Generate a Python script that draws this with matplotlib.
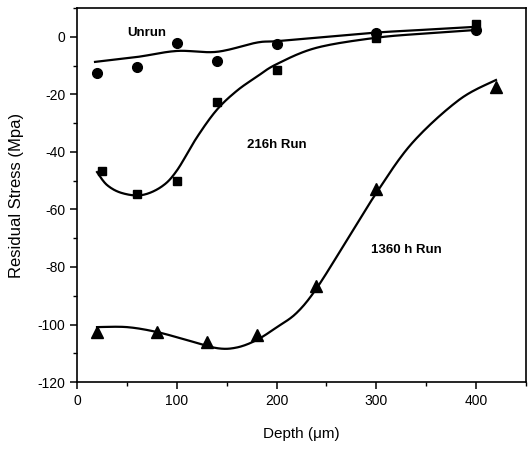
import numpy as np
import matplotlib.pyplot as plt
from matplotlib.ticker import MultipleLocator

plt.rcParams['font.family'] = ['Liberation Sans', 'DejaVu Sans']
plt.rcParams['axes.unicode_minus'] = False

# measured points
unrun_x = [20, 60, 100, 140, 200, 300, 400]
unrun_y = [-12.5, -10.5, -2.0, -8.5, -2.5, 1.5, 2.5]
run216_x = [25, 60, 100, 140, 200, 300, 400]
run216_y = [-46.5, -54.5, -50.0, -22.5, -11.5, -0.5, 4.5]
run1360_x = [20, 80, 130, 180, 240, 300, 420]
run1360_y = [-102.5, -102.5, -106.0, -103.5, -86.5, -53.0, -17.5]

# fitted curves, knots
unrun_fit_x = [18, 60, 100, 140, 180, 200, 250, 300, 350, 400]
unrun_fit_y = [-8.7, -7.0, -4.9, -5.2, -2.0, -1.5, 0.0, 1.5, 2.5, 3.5]
run216_fit_x = [20, 30, 45, 65, 85, 100, 120, 140, 160, 180, 200, 240, 300, 350, 400]
run216_fit_y = [-47.0, -51.5, -54.3, -55.0, -52.0, -46.5, -35.0, -25.4, -18.8, -13.9, -9.5, -3.8, -0.3, 1.2, 2.4]
run1360_fit_x = [20, 50, 80, 110, 140, 160, 180, 200, 220, 240, 270, 300, 336, 383, 420]
run1360_fit_y = [-100.9, -100.9, -102.6, -105.4, -108.2, -108.0, -105.4, -101.0, -96.0, -87.5, -71.0, -54.3, -36.9, -21.9, -15.0]


def smooth(xs, ys, n=20):
    # catmull-rom through the knots, just for a rounder line
    p = np.column_stack([xs, ys]).astype(float)
    p = np.vstack([p[0], p, p[-1]])
    out = []
    t = np.linspace(0, 1, n, endpoint=False)[:, None]
    for i in range(1, len(p) - 2):
        p0, p1, p2, p3 = p[i - 1], p[i], p[i + 1], p[i + 2]
        seg = 0.5 * ((2 * p1) + (-p0 + p2) * t + (2 * p0 - 5 * p1 + 4 * p2 - p3) * t**2
                     + (-p0 + 3 * p1 - 3 * p2 + p3) * t**3)
        out.append(seg)
    out.append(p[-2][None, :])
    out = np.vstack(out)
    return out[:, 0], out[:, 1]


fig = plt.figure(figsize=(5.28, 4.5), dpi=100)
ax = fig.add_axes([0.146, 0.151, 0.85, 0.831])

lw = 1.6
for fx, fy in [(unrun_fit_x, unrun_fit_y), (run216_fit_x, run216_fit_y),
               (run1360_fit_x, run1360_fit_y)]:
    sx, sy = smooth(fx, fy)
    ax.plot(sx, sy, color='black', lw=lw)

ax.plot(unrun_x, unrun_y, 'o', color='black', ms=7)
ax.plot(run216_x, run216_y, 's', color='black', ms=6)
ax.plot(run1360_x, run1360_y, '^', color='black', ms=8)

ax.text(50, 1.5, 'Unrun', fontsize=9.5, fontweight='semibold', va='center')
ax.text(170, -37.5, '216h Run', fontsize=9.5, fontweight='bold', va='center')
ax.text(295, -74, '1360 h Run', fontsize=9.5, fontweight='bold', va='center')

ax.set_xlim(0, 450)
ax.set_ylim(-120, 10)
ax.xaxis.set_major_locator(MultipleLocator(100))
ax.xaxis.set_minor_locator(MultipleLocator(50))
ax.yaxis.set_major_locator(MultipleLocator(20))
ax.yaxis.set_minor_locator(MultipleLocator(10))
ax.tick_params(which='both', direction='out', labelsize=10)
ax.tick_params(which='major', length=5, width=1.1)
ax.tick_params(which='minor', length=3, width=1.0)

ax.set_xlabel('Depth (\u03bcm)', fontsize=11, labelpad=14)
ax.set_ylabel('Residual Stress (Mpa)', fontsize=12, labelpad=10)

for s in ax.spines.values():
    s.set_linewidth(1.2)

fig.savefig('out.png', dpi=100)
